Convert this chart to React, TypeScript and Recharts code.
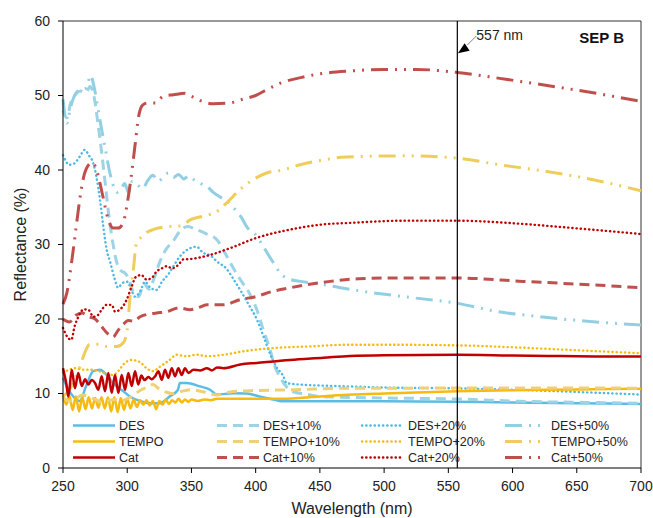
import { LineChart, Line, XAxis, YAxis, ReferenceLine, Legend } from 'recharts';

type Pt = [number, number];

const X_TICKS = [250, 300, 350, 400, 450, 500, 550, 600, 650, 700];
const Y_TICKS = [0, 10, 20, 30, 40, 50, 60];
const MARK_NM = 557;

// [wavelength nm, reflectance %]
const DES: Pt[] = [
  [250, 12.1], [254, 10.6], [258, 9.6], [263, 9.0], [268, 11.0], [273.5, 13.0], [278.8, 13.2],
  [284, 12.5], [289, 11.4], [297, 10.3], [302, 9.6], [310, 9.0], [318, 8.7], [325.5, 8.7],
  [333, 9.6], [339.5, 10.5], [341, 11.4], [346, 11.4], [356.7, 10.95], [364.5, 10.5],
  [369.7, 9.85], [382.6, 10.05], [393, 10.0], [403, 9.6], [413.8, 9.2], [421.6, 8.95],
  [450, 8.95], [500, 8.95], [557, 8.9], [600, 8.8], [650, 8.7], [700, 8.6],
];
const DES_10: Pt[] = [
  [250, 48.0], [253, 47.0], [256, 49.0], [260, 50.2], [264, 50.6], [268, 50.4], [271, 51.2],
  [274, 50.0], [277, 46.5], [280, 42.5], [283, 38.0], [286, 33.5], [289, 30.0], [292, 27.5],
  [295, 26.5], [298, 26.2], [301, 25.5], [305, 23.5], [309, 23.0], [313, 24.8], [317, 24.0],
  [321, 25.5], [325, 27.5], [330, 29.3], [336, 30.5], [341, 31.8], [347, 32.4], [354, 32.0],
  [362, 31.4], [370, 30.6], [376, 28.9], [382, 27.0], [388, 25.3], [395, 23.5], [401, 21.2],
  [406, 18.5], [411, 16.0], [415, 13.6], [419, 12.2], [424, 10.9], [430, 10.2], [440, 9.9],
  [450, 9.6], [502, 9.4], [559, 9.25], [606, 8.95], [658, 8.8], [700, 8.7],
];
const DES_20: Pt[] = [
  [250, 42.0], [255, 40.7], [259, 40.9], [263, 41.8], [267, 42.7], [270, 42.0], [273.6, 40.9],
  [276, 39.1], [278.8, 36.0], [281.4, 32.4], [284, 29.3], [287, 27.5], [290, 25.5], [293, 24.2],
  [296, 24.8], [300, 25.0], [303, 24.0], [306, 23.0], [310, 23.7], [314, 25.0], [318, 24.2],
  [323, 23.9], [327, 25.0], [332, 26.0], [336, 27.1], [341, 28.4], [349, 29.5], [354, 29.7],
  [359, 28.9], [365, 28.5], [370, 27.7], [377, 26.8], [384, 25.0], [388, 23.9], [394, 22.1],
  [401, 19.9], [406, 17.7], [411, 15.4], [416, 13.6], [421.6, 12.3], [424, 11.4], [434.6, 11.2],
  [473.5, 10.95], [500, 10.8], [554, 10.7], [600, 10.5], [650, 10.2], [700, 9.85],
];
const DES_50: Pt[] = [
  [250, 49.5], [253, 46.3], [256, 48.5], [260, 50.3], [264, 50.8], [268, 51.0], [271.6, 52.7],
  [274, 51.3], [277, 48.5], [280, 45.5], [283, 42.8], [286, 40.0], [289, 38.0], [292, 37.0],
  [295, 37.3], [298, 38.2], [301, 37.0], [304, 38.5], [308, 38.0], [312, 37.5], [316, 38.6],
  [320, 39.3], [324, 38.5], [328, 39.0], [332, 39.6], [336, 39.0], [340, 39.4], [344, 38.8],
  [348, 39.2], [352, 38.7], [357, 38.2], [362, 37.8], [367, 37.0], [372, 36.4], [378, 35.8],
  [384, 34.7], [389, 33.6], [393, 32.4], [401, 31.1], [406, 29.7], [410, 28.6], [414, 27.5],
  [419, 26.2], [427, 25.3], [435, 25.05], [450, 24.7], [466, 24.2], [484, 23.7], [515, 23.0],
  [557, 22.1], [588, 21.0], [619, 20.35], [658, 19.7], [700, 19.2],
];

const TEMPO: Pt[] = [
  [250, 9.9], [252.5, 8.5], [255, 9.7], [257.5, 7.8], [260, 9.6], [262.5, 7.6], [265, 9.5],
  [267.5, 7.9], [270, 9.5], [272.5, 8.0], [275, 9.4], [277.5, 8.1], [280, 9.5], [282.5, 8.0],
  [285, 9.5], [287.5, 7.6], [290, 9.5], [292.5, 7.5], [295, 9.4], [297.5, 7.8], [300, 9.3],
  [302.5, 8.0], [305, 9.2], [307.5, 8.2], [310, 9.1], [312.5, 8.5], [315, 9.1], [317.5, 8.4],
  [320, 9.0], [322.5, 7.9], [325, 9.0], [327.5, 8.5], [330, 9.2], [332.5, 8.6], [335, 9.1],
  [337.5, 8.8], [340, 9.3], [342.5, 8.8], [345, 9.2], [347.5, 8.9], [350, 9.2], [355, 9.0],
  [360, 9.2], [365, 9.1], [370, 9.3], [380, 9.3], [400, 9.3], [420, 9.3], [450, 9.6],
  [475, 9.85], [500, 10.0], [557, 10.3], [600, 10.45], [650, 10.55], [700, 10.65],
];
const TEMPO_10: Pt[] = [
  [250, 9.5], [255, 9.0], [260, 9.3], [265, 9.8], [270, 9.6], [275, 9.2], [280, 8.9], [285, 9.0],
  [290, 9.2], [295, 9.0], [300, 9.3], [305, 9.8], [310, 10.4], [315, 10.8], [320, 11.2],
  [325, 10.6], [330, 10.2], [335, 10.0], [340, 10.2], [345, 10.4], [350, 10.5], [360, 10.2],
  [370, 9.8], [380, 10.2], [400, 10.4], [430, 10.5], [470, 10.7], [500, 10.7], [557, 10.75],
  [600, 10.75], [650, 10.75], [700, 10.7],
];
const TEMPO_20: Pt[] = [
  [250, 12.8], [255, 13.2], [260, 13.4], [265, 13.2], [270, 13.2], [276, 13.1], [281, 12.8],
  [286, 12.5], [289, 12.5], [293, 13.0], [297, 13.9], [303, 14.5], [307, 14.4], [310, 14.2],
  [315, 13.4], [320, 13.0], [325.5, 13.6], [333, 14.5], [338.5, 15.2], [346, 15.0], [354, 15.2],
  [362, 15.0], [375, 15.2], [390, 15.65], [414, 16.1], [440, 16.3], [474, 16.55], [500, 16.55],
  [557, 16.46], [600, 16.2], [650, 15.8], [700, 15.4],
];
const TEMPO_50: Pt[] = [
  [250, 9.6], [255, 10.5], [259, 11.8], [263, 13.5], [267, 15.5], [271, 16.6], [279, 16.6],
  [284, 16.3], [292, 16.3], [297, 16.8], [300, 18.6], [302, 22.6], [305, 27.0], [307, 30.0],
  [311, 31.0], [315, 31.6], [320, 32.0], [331, 32.4], [342, 32.5], [349, 33.3], [359, 33.8],
  [369.6, 34.4], [377.5, 35.6], [388, 37.4], [398, 38.7], [408.6, 39.6], [421, 40.0],
  [434.6, 40.7], [447.6, 41.2], [458, 41.5], [466, 41.7], [517.6, 41.9], [556.6, 41.6],
  [590, 40.7], [626.7, 39.8], [662.8, 38.7], [700, 37.2],
];

const CAT: Pt[] = [
  [250, 13.4], [252.5, 11.4], [254.2, 9.6], [256.8, 13.2], [259.3, 10.7], [261.9, 12.75],
  [264.6, 11.0], [267.2, 11.9], [269.7, 11.2], [272.3, 11.8], [274.9, 11.4], [277.5, 10.5],
  [280.1, 12.3], [282.7, 10.3], [285.3, 12.75], [287.9, 10.1], [290.5, 12.5], [293.1, 10.1],
  [295.7, 12.5], [298.3, 10.5], [300.9, 12.75], [303.5, 11.0], [306.1, 13.0], [308.6, 11.2],
  [311, 12.4], [313.5, 11.8], [316.4, 12.2], [319, 11.9], [321.7, 12.3], [324.2, 13.0],
  [326.9, 11.85], [329.4, 13.2], [332, 12.1], [334.7, 13.4], [337.2, 12.3], [339.8, 13.4],
  [342.4, 12.5], [345, 13.4], [347.6, 12.75], [351.5, 13.2], [356.7, 13.1], [362, 13.4],
  [366, 13.1], [370, 13.5], [375, 13.4], [388, 13.9], [400.8, 14.1], [426.8, 14.5],
  [452.7, 14.8], [473.5, 15.05], [500, 15.15], [557, 15.2], [600, 15.1], [650, 15.0], [700, 14.95],
];
const CAT_10: Pt[] = [
  [250, 20.0], [255, 19.6], [260, 20.5], [265, 20.8], [270, 20.3], [275, 20.0], [280, 19.0],
  [285, 18.0], [289, 17.6], [293, 18.5], [297, 19.3], [301, 19.8], [305, 19.7], [310, 20.3],
  [315, 20.6], [323, 20.8], [331, 21.0], [340, 21.5], [349, 21.25], [355, 21.5], [362, 21.9],
  [375, 21.9], [388, 22.6], [400, 23.0], [413, 23.7], [427, 24.2], [440, 24.6], [458, 25.05],
  [480, 25.4], [505, 25.5], [557, 25.5], [608, 25.05], [660, 24.6], [700, 24.2],
];
const CAT_20: Pt[] = [
  [250, 18.8], [253, 17.7], [256.5, 17.2], [259, 19.0], [262, 20.3], [266, 21.3], [270, 21.2],
  [273.6, 20.3], [277, 20.5], [280, 21.2], [284, 21.9], [288, 21.9], [290.5, 21.0], [295.7, 21.5],
  [299.6, 22.6], [303.5, 24.4], [307, 25.7], [311, 25.9], [315, 25.3], [319, 25.5], [323, 26.4],
  [327, 26.8], [331, 27.1], [334.7, 26.8], [340, 27.3], [343.7, 28.0], [349, 28.05],
  [364.5, 28.6], [380, 29.5], [400.8, 30.9], [426.8, 32.0], [452.7, 32.7], [473.5, 32.9],
  [517.6, 33.2], [556.6, 33.2], [595.6, 32.9], [647.6, 32.2], [700, 31.4],
];
const CAT_50: Pt[] = [
  [250, 22.0], [253, 23.5], [257, 28.0], [260, 32.0], [263, 36.0], [266, 39.0], [270, 40.7],
  [273, 41.0], [277, 39.5], [281, 36.5], [285, 33.5], [289, 32.2], [293, 32.2], [297, 33.0],
  [300, 35.5], [303, 39.0], [306, 43.2], [309, 47.3], [312, 48.7], [316, 49.0], [322, 49.0],
  [328, 49.9], [336, 50.1], [345, 50.3], [350, 49.9], [357, 49.3], [367, 48.9], [380, 49.0],
  [390, 49.5], [400, 50.0], [410, 50.9], [420, 51.7], [435, 52.4], [450, 52.9], [475, 53.3],
  [500, 53.5], [525, 53.5], [557, 53.1], [590, 52.3], [621, 51.5], [658, 50.5], [700, 49.2],
];

const DASH = '10 6';
const DOT = '0.3 3.9';
const DASH_DOT_DOT = '17 7 2 7 2 7';

const series = [
  { name: 'DES', pts: DES, color: '#5bbde6', dash: undefined, w: 2.5, cap: 'butt', col: 0, row: 0 },
  { name: 'DES+10%', pts: DES_10, color: '#9dd3e5', dash: DASH, w: 3, cap: 'butt', col: 1, row: 0 },
  { name: 'DES+20%', pts: DES_20, color: '#4dbae6', dash: DOT, w: 2.4, cap: 'round', col: 2, row: 0 },
  { name: 'DES+50%', pts: DES_50, color: '#92cfe3', dash: DASH_DOT_DOT, w: 3, cap: 'butt', col: 3, row: 0 },
  { name: 'TEMPO', pts: TEMPO, color: '#f7ba10', dash: undefined, w: 2.5, cap: 'butt', col: 0, row: 1 },
  { name: 'TEMPO+10%', pts: TEMPO_10, color: '#efd077', dash: DASH, w: 3, cap: 'butt', col: 1, row: 1 },
  { name: 'TEMPO+20%', pts: TEMPO_20, color: '#f6bb12', dash: DOT, w: 2.4, cap: 'round', col: 2, row: 1 },
  { name: 'TEMPO+50%', pts: TEMPO_50, color: '#efcd5c', dash: DASH_DOT_DOT, w: 3, cap: 'butt', col: 3, row: 1 },
  { name: 'Cat', pts: CAT, color: '#c00000', dash: undefined, w: 2.5, cap: 'butt', col: 0, row: 2 },
  { name: 'Cat+10%', pts: CAT_10, color: '#c0504d', dash: DASH, w: 3, cap: 'butt', col: 1, row: 2 },
  { name: 'Cat+20%', pts: CAT_20, color: '#c00000', dash: DOT, w: 2.4, cap: 'round', col: 2, row: 2 },
  { name: 'Cat+50%', pts: CAT_50, color: '#c04f4c', dash: DASH_DOT_DOT, w: 3, cap: 'butt', col: 3, row: 2 },
];

const toRows = (pts: Pt[]) => pts.map(([wl, r]) => ({ wl, r }));

const FONT = '"Liberation Sans", Arial, sans-serif';

function LegendBox() {
  const colX = [13, 157, 302, 445];
  const rowY = [15.5, 31.5, 47.5];
  return (
    <svg width={585} height={60} style={{ display: 'block', overflow: 'visible' }}>
      {series.map((s) => {
        const x = colX[s.col];
        const y = rowY[s.row];
        return (
          <g key={s.name}>
            <line x1={x} y1={y} x2={x + 42} y2={y} stroke={s.color} strokeWidth={s.w}
              strokeDasharray={s.dash} strokeLinecap={s.cap as any} />
            <text x={x + 46} y={y + 4.5} fontSize={12.5} fill="#222" fontFamily={FONT}>{s.name}</text>
          </g>
        );
      })}
    </svg>
  );
}

function MarkLabel(props: any) {
  const { x, y } = props.viewBox;
  return (
    <g>
      <line x1={x + 19} y1={y + 15} x2={x + 10} y2={y + 24} stroke="#666" strokeWidth={0.8} />
      <polygon points={`${x + 0.6},${y + 32.3} ${x + 12.3},${y + 29.7} ${x + 7.3},${y + 22.3}`} fill="#000" />
      <text x={x + 19} y={y + 19} fontSize={14} fill="#222" fontFamily={FONT}>{MARK_NM} nm</text>
    </g>
  );
}

function PanelLabel(props: any) {
  const { x, y } = props.viewBox;
  return (
    <text x={x - 17} y={y + 21.5} textAnchor="end" fontSize={15} fontWeight="bold" fill="#111" fontFamily={FONT}>
      SEP B
    </text>
  );
}

function XTitle(props: any) {
  const { x, y, width } = props.viewBox;
  return (
    <text x={x + width / 2} y={y + 46} textAnchor="middle" fontSize={16} fill="#222" fontFamily={FONT}>
      Wavelength (nm)
    </text>
  );
}

function YTitle(props: any) {
  const { y, height } = props.viewBox;
  const cx = 25.5;
  const cy = y + height / 2;
  return (
    <text x={cx} y={cy} transform={`rotate(-90 ${cx} ${cy})`} textAnchor="middle" fontSize={16} fill="#222"
      fontFamily={FONT}>
      Reflectance (%)
    </text>
  );
}

export default function App() {
  return (
    <div style={{ position: 'absolute', left: 0, top: 0, width: 653, height: 518, background: '#fff', fontFamily: FONT }}>
      <LineChart width={653} height={518} margin={{ top: 21, right: 12, bottom: 0, left: 0 }}>
        <XAxis
          type="number"
          dataKey="wl"
          domain={[250, 700]}
          ticks={X_TICKS}
          height={50}
          stroke="#000"
          tickSize={5}
          tickMargin={8}
          tick={{ fontSize: 14, fill: '#222' }}
          label={<XTitle />}
        />
        <YAxis
          type="number"
          domain={[0, 60]}
          ticks={Y_TICKS}
          width={63}
          stroke="#000"
          tickSize={5}
          tickMargin={8}
          tick={{ fontSize: 14, fill: '#222' }}
          label={<YTitle />}
        />
        <ReferenceLine y={60} stroke="#333" strokeWidth={1} />
        <ReferenceLine x={700} stroke="#333" strokeWidth={1} label={<PanelLabel />} />
        {series.map((s) => (
          <Line
            key={s.name}
            name={s.name}
            data={toRows(s.pts)}
            dataKey="r"
            type="monotone"
            stroke={s.color}
            strokeWidth={s.w}
            strokeDasharray={s.dash}
            strokeLinecap={s.cap as any}
            dot={false}
            activeDot={false}
            isAnimationActive={false}
          />
        ))}
        <ReferenceLine x={MARK_NM} stroke="#000" strokeWidth={1.2} label={<MarkLabel />} />
        <Legend
          layout="vertical"
          align="center"
          verticalAlign="middle"
          wrapperStyle={{ left: 60, top: 410, width: 585, height: 60 }}
          content={() => <LegendBox />}
        />
      </LineChart>
    </div>
  );
}
